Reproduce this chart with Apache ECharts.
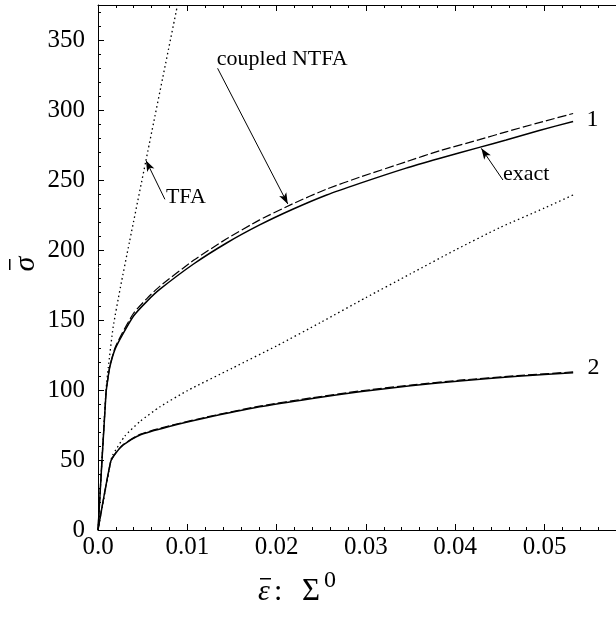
<!DOCTYPE html>
<html>
<head>
<meta charset="utf-8">
<script src="https://cdn.jsdelivr.net/npm/echarts@6/dist/echarts.min.js"></script>
<style>html,body{margin:0;padding:0;background:#fff}#c{width:616px;height:619px}</style>
</head>
<body>
<div id="c"></div>
<script>
// ---- data ----
const xTickLabels = ['0.0', '0.01', '0.02', '0.03', '0.04', '0.05'];
const yTickLabels = ['0', '50', '100', '150', '200', '250', '300', '350'];

// curve 1: exact (solid) and coupled NTFA (dashed)
const strain1 = [0, 0.0009, 0.00115, 0.00134, 0.0019, 0.0027, 0.004, 0.0055, 0.00694, 0.0107, 0.0144, 0.0181, 0.0218, 0.0256, 0.0293, 0.0345, 0.0383, 0.0427, 0.0457, 0.0494, 0.0532];
const exact1 = [0, 98, 110, 117, 129, 139, 153, 163.5, 172, 190, 205, 217.9, 229.1, 239.3, 247.6, 258.5, 265.5, 273.3, 278.6, 285.4, 291.8];
const ntfa1 = [0, 98, 110, 117.5, 130, 140.5, 155, 165.5, 174.2, 192.6, 208, 221.5, 233, 243.5, 252, 263, 271, 278.8, 284.4, 291, 297.5];

// curve 2: exact (solid) and coupled NTFA (dashed)
const strain2 = [0, 0.00142, 0.002, 0.00283, 0.0047, 0.00787, 0.012, 0.0181, 0.024, 0.0293, 0.035, 0.0405, 0.047, 0.0532];
const exact2 = [0, 48.8, 55, 60.7, 67.9, 73.8, 80, 88, 94, 98.8, 103, 106.5, 109.8, 112.4];
const ntfa2 = [0, 48.8, 55.2, 61, 68.3, 74.2, 80.5, 88.5, 94.5, 99.3, 103.5, 107, 110.3, 112.9];

// TFA (dotted)
const strainTfa1 = [0, 0.0009, 0.00115, 0.0017, 0.0025, 0.0035, 0.00537, 0.0089];
const tfa1 = [0, 100, 116, 145, 173, 205, 264, 375];
const strainTfa2 = [0, 0.00142, 0.0016, 0.003, 0.0047, 0.00694, 0.01, 0.015, 0.02, 0.025, 0.03, 0.035, 0.04, 0.045, 0.05, 0.0532];
const tfa2 = [0, 48.8, 53, 67, 77.5, 88, 99.5, 115.5, 131.5, 148.5, 166, 183, 200, 216, 230, 239.3];

// annotations: text, anchor (left-middle of text) in data units
const annotText = ['coupled NTFA', 'TFA', 'exact', '1', '2'];
const annotAt = [[0.0133, 336], [0.0076, 237.6], [0.04534, 254.3], [0.0547, 293.3], [0.0548, 116]];
// arrows: tail -> tip in data units
const arrowFrom = [[0.01339, 329.8], [0.00749, 236.2], [0.04534, 250]];
const arrowTo = [[0.02125, 232.9], [0.00537, 264], [0.04292, 272.6]];

// ---- chart ----
const FONT = '"Liberation Serif", "DejaVu Serif", serif';
const zip = (xs, ys) => xs.map((x, i) => [x, ys[i]]);

const chart = echarts.init(document.getElementById('c'), null, {renderer: 'canvas'});

const axisCommon = {
  type: 'value',
  axisLine: {show: true, onZero: false, lineStyle: {color: '#000', width: 1}},
  axisTick: {show: true, inside: true, length: 6, lineStyle: {color: '#000', width: 1}},
  minorTick: {show: true, splitNumber: 5, length: 3, lineStyle: {color: '#000', width: 1}},
  splitLine: {show: false},
};

const lineSeries = (name, xs, ys, type, width) => ({
  name, type: 'line', data: zip(xs, ys), showSymbol: false, symbol: 'none',
  smooth: 0.2, clip: true, animation: false,
  lineStyle: {color: '#000', width: width, type: type},
  emphasis: {disabled: true}, silent: true, z: 3
});

const markLines = arrowFrom.map((f, i) => [
  {coord: f, symbol: 'none'},
  {coord: arrowTo[i], symbol: 'arrow', symbolSize: [6, 11]}
]);

const markPoints = annotText.map((t, i) => ({
  coord: annotAt[i], symbol: 'circle', symbolSize: 0,
  label: {show: true, formatter: t, position: 'right', distance: 0,
    fontFamily: FONT, fontSize: (t.length === 1 ? 24 : 22), color: '#000'}
}));

chart.setOption({
  animation: false,
  backgroundColor: '#fff',
  grid: {left: 98, top: 5, right: 0, bottom: 89, containLabel: false},
  xAxis: [
    Object.assign({}, axisCommon, {
      position: 'bottom', min: 0, max: 0.058, interval: 0.01,
      axisLabel: {show: true, margin: 5, color: '#000', fontFamily: FONT, fontSize: 25,
        showMaxLabel: false,
        formatter: v => { const k = Math.round(v / 0.01); return Math.abs(v - k * 0.01) < 1e-9 ? (xTickLabels[k] || '') : ''; }}
    }),
    Object.assign({}, axisCommon, {
      position: 'top', min: 0, max: 0.058, interval: 0.01, axisLabel: {show: false}
    })
  ],
  yAxis: [
    Object.assign({}, axisCommon, {
      position: 'left', min: 0, max: 375, interval: 50,
      axisLabel: {show: true, margin: 13, color: '#000', fontFamily: FONT, fontSize: 25,
        showMaxLabel: false,
        formatter: v => { const k = Math.round(v / 50); return Math.abs(v - k * 50) < 1e-9 ? (yTickLabels[k] || '') : ''; }}
    })
  ],
  graphic: [
    // y-axis title: sigma with bar, rotated
    {
      type: 'group', x: 26, y: 264, rotation: Math.PI / 2, silent: true,
      children: [
        {type: 'text', x: 0, y: 0, style: {text: '\u03C3', fontFamily: FONT, fontSize: 30, fontStyle: 'italic',
          fill: '#000', align: 'center', verticalAlign: 'middle'}},
        {type: 'rect', shape: {x: -6, y: -17, width: 11, height: 1.5}, style: {fill: '#000'}}
      ]
    },
    // x-axis title: eps-bar : Sigma^0
    {
      type: 'group', x: 0, y: -5, silent: true,
      children: [
        {type: 'text', x: 258, y: 597, style: {text: '\u03B5', fontFamily: FONT, fontSize: 30, fontStyle: 'italic',
          fill: '#000', verticalAlign: 'middle'}},
        {type: 'rect', shape: {x: 260, y: 583, width: 11, height: 1.5}, style: {fill: '#000'}},
        {type: 'text', x: 274, y: 597, style: {text: ':', fontFamily: FONT, fontSize: 30,
          fill: '#000', verticalAlign: 'middle'}},
        {type: 'text', x: 302, y: 597, style: {text: '\u03A3', fontFamily: FONT, fontSize: 31,
          fill: '#000', verticalAlign: 'middle'}},
        {type: 'text', x: 324, y: 586, style: {text: '0', fontFamily: FONT, fontSize: 24,
          fill: '#000', verticalAlign: 'middle'}}
      ]
    }
  ],
  series: [
    lineSeries('exact 1', strain1, exact1, 'solid', 1.5),
    lineSeries('coupled NTFA 1', strain1, ntfa1, [9, 3], 1.2),
    lineSeries('exact 2', strain2, exact2, 'solid', 1.5),
    lineSeries('coupled NTFA 2', strain2, ntfa2, [9, 3], 1.2),
    lineSeries('TFA 1', strainTfa1, tfa1, [1.5, 3], 1.3),
    Object.assign(lineSeries('TFA 2', strainTfa2, tfa2, [1.5, 3], 1.3), {
      markLine: {silent: true, animation: false, symbol: ['none', 'arrow'],
        label: {show: false}, emphasis: {disabled: true},
        lineStyle: {color: '#000', width: 1, type: 'solid'}, data: markLines},
      markPoint: {silent: true, animation: false, data: markPoints}
    })
  ]
});
</script>
</body>
</html>
